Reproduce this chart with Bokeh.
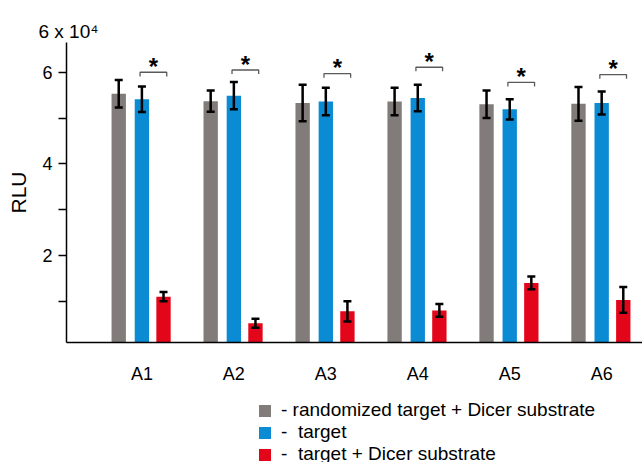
from bokeh.plotting import figure
from bokeh.layouts import column
from bokeh.models import (ColumnDataSource, Range1d, FixedTicker, Whisker, TeeHead,
                          Legend, LegendItem, Title)
from bokeh.core.properties import value
from bokeh.embed import file_html
from bokeh.resources import INLINE

# ---- data (RLU, x 10^4) ----
groups = ["A1", "A2", "A3", "A4", "A5", "A6"]
gray_vals = [5.53, 5.37, 5.33, 5.36, 5.30, 5.31]
gray_err = [0.30, 0.23, 0.40, 0.30, 0.30, 0.37]
blue_vals = [5.41, 5.49, 5.36, 5.44, 5.19, 5.33]
blue_err = [0.28, 0.30, 0.30, 0.29, 0.22, 0.25]
red_vals = [1.10, 0.52, 0.78, 0.80, 1.40, 1.03]
red_err = [0.10, 0.10, 0.22, 0.14, 0.14, 0.28]
bracket_level = [6.00, 6.05, 5.97, 6.11, 5.78, 5.95]
y_ticks = [1, 2, 3, 4, 5, 6]
y_tick_labels = {1: "", 2: "2", 3: "", 4: "4", 5: "", 6: "6"}
scale_label = "6 x 10\u2074"
legend_labels = ["- randomized target + Dicer substrate",
                 "-\u00a0 target",
                 "-\u00a0 target + Dicer substrate"]

GRAY = "#817c7a"
BLUE = "#0a8bd3"
RED = "#e3061a"
FONT = "Liberation Sans"

idx = list(range(len(groups)))
off = {"gray": -0.252, "blue": 0.0, "red": 0.235}
bw = 0.156

p = figure(width=642, height=390, output_backend="svg", toolbar_location=None,
           x_range=Range1d(-0.82, 5.444), y_range=Range1d(0.1, 6.65),
           min_border_left=66, min_border_right=0, min_border_top=42,
           min_border_bottom=48)
p.outline_line_color = None
p.xgrid.visible = False
p.ygrid.visible = False

series = [("gray", gray_vals, gray_err, GRAY),
          ("blue", blue_vals, blue_err, BLUE),
          ("red", red_vals, red_err, RED)]
sources = []
for name, vals, errs, col in series:
    src = ColumnDataSource(dict(
        x=[i + off[name] for i in idx],
        top=vals,
        upper=[v + e for v, e in zip(vals, errs)],
        lower=[v - e for v, e in zip(vals, errs)],
    ))
    sources.append(src)
    p.vbar(x="x", top="top", bottom=0, width=bw, source=src,
           fill_color=col, line_color=None)
    w = Whisker(base="x", upper="upper", lower="lower", source=src,
                level="overlay",
                line_color="black", line_width=2.5,
                upper_head=TeeHead(size=8, line_width=2.5, line_color="black"),
                lower_head=TeeHead(size=8, line_width=2.5, line_color="black"))
    p.add_layout(w)

# significance brackets
leg = 0.09
bx0 = [i - 0.02 for i in idx]
bx1 = [i + off["red"] + 0.035 for i in idx]
xs = [[a, a, b, b] for a, b in zip(bx0, bx1)]
ys = [[y - leg, y, y, y - leg] for y in bracket_level]
p.multi_line(xs=xs, ys=ys, line_color="#5a5a5a", line_width=1.3)
star_src = ColumnDataSource(dict(
    x=[(a + b) / 2 for a, b in zip(bx0, bx1)],
    y=[y + 0.13 for y in bracket_level],
    t=["*"] * len(groups)))
p.text(x="x", y="y", text="t", source=star_src, text_align="center",
       text_baseline="alphabetic", text_font=value(FONT),
       text_font_size="24px", text_font_style="bold", text_color="black")

# axes
p.xaxis.ticker = FixedTicker(ticks=idx)
p.xaxis.major_label_overrides = {i: g for i, g in zip(idx, groups)}
p.xaxis.major_tick_line_color = None
p.xaxis.major_tick_out = 0
p.xaxis.major_tick_in = 0
p.xaxis.minor_tick_line_color = None
p.xaxis.axis_line_color = "black"
p.xaxis.axis_line_width = 1.5
p.xaxis.major_label_text_font = FONT
p.xaxis.major_label_text_font_size = "18px"
p.xaxis.major_label_text_color = "black"
p.xaxis.major_label_standoff = 21

p.yaxis.ticker = FixedTicker(ticks=y_ticks)
p.yaxis.major_label_overrides = y_tick_labels
p.yaxis.minor_tick_line_color = None
p.yaxis.major_tick_out = 8
p.yaxis.major_tick_in = 0
p.yaxis.major_tick_line_width = 1.5
p.yaxis.axis_line_width = 1.5
p.yaxis.axis_line_color = "black"
p.yaxis.major_tick_line_color = "black"
p.yaxis.major_label_text_font = FONT
p.yaxis.major_label_text_font_size = "18px"
p.yaxis.major_label_text_color = "black"
p.yaxis.major_label_standoff = 6
p.yaxis.axis_label = "RLU"
p.yaxis.axis_label_text_font = FONT
p.yaxis.axis_label_text_font_size = "21px"
p.yaxis.axis_label_text_font_style = "normal"
p.yaxis.axis_label_text_color = "black"
p.yaxis.axis_label_standoff = 9

# scale label "6 x 10^4"
p.add_layout(Title(text=scale_label, align="left", offset=-28, standoff=1,
                   text_font=FONT, text_font_size="19px",
                   text_font_style="normal", text_color="black"), "above")

# legend strip below the chart (renderers reuse the same data, kept out of view)
p2 = figure(width=642, height=72, output_backend="svg", toolbar_location=None,
            x_axis_location=None, y_axis_location=None,
            x_range=Range1d(50, 51), y_range=Range1d(50, 60),
            min_border=0)
p2.outline_line_color = None
p2.xgrid.visible = False
p2.ygrid.visible = False
leg_rs = []
for (name, vals, errs, col), src in zip(series, sources):
    leg_rs.append(p2.vbar(x="x", top="top", bottom=0, width=bw, source=src,
                          fill_color=col, line_color=None))

legend = Legend(items=[LegendItem(label=lab, renderers=[r])
                       for lab, r in zip(legend_labels, leg_rs)],
                location=(191, -3), padding=0, margin=0, spacing=-1,
                glyph_width=15, glyph_height=15, label_height=21,
                label_standoff=9, label_text_font=FONT,
                label_text_font_size="19px", label_text_color="black",
                border_line_alpha=0, background_fill_alpha=0)
p2.add_layout(legend, "center")

open("out.html", "w").write(file_html(column(p, p2, spacing=0), INLINE))
